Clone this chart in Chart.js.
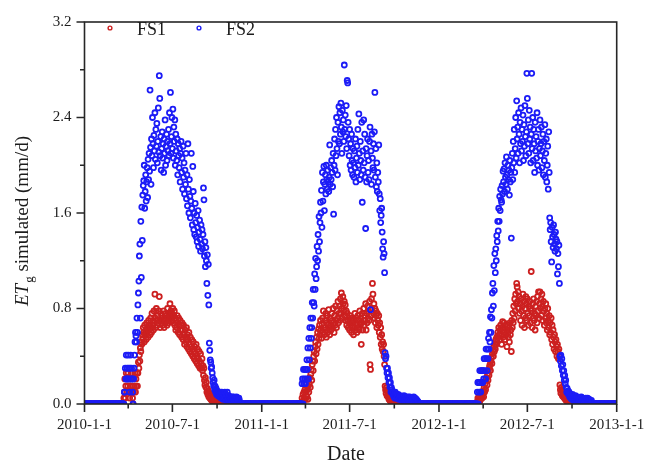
<!DOCTYPE html>
<html>
<head>
<meta charset="utf-8">
<title>ETg simulated</title>
<script src="https://cdn.jsdelivr.net/npm/chart.js@4.4.0/dist/chart.umd.min.js"></script>
<style>
  html, body { margin: 0; padding: 0; background: #fff; }
  #wrap { width: 659px; height: 466px; }
  canvas { display: block; }
</style>
</head>
<body>
<div id="wrap"><canvas id="chart" width="659" height="466"></canvas></div>
<script>
// ---- Data: daily simulated ETg (mm/d) for each growing season ----
const seasonStarts = ['2010-3-22', '2011-3-24', '2012-3-19'];

const fs2_2010 = [
  0.00,0.00,0.10,0.10,0.30,0.21,0.41,0.21,0.30,0.21,
  0.41,0.30,0.21,0.10,0.30,0.41,0.21,0.30,0.21,0.10,
  0.00,0.21,0.30,0.41,0.52,0.60,0.57,0.52,0.72,0.60,
  0.83,0.93,1.03,1.24,1.34,0.72,1.53,1.06,1.65,1.37,
  1.75,1.83,1.87,2.00,1.64,1.78,1.92,1.70,1.86,1.98,
  1.73,2.05,1.88,2.10,1.95,2.63,2.15,1.84,2.22,2.08,
  2.40,2.18,1.98,2.25,2.12,2.44,2.05,2.30,2.16,2.35,
  2.02,2.20,2.48,2.11,2.75,2.56,2.08,2.24,1.96,2.14,
  2.28,2.06,2.18,1.94,2.22,2.10,2.38,2.00,2.16,2.26,
  2.04,2.20,2.12,2.30,2.08,2.44,2.18,2.61,2.10,2.24,
  2.40,2.14,2.47,2.06,2.32,2.20,2.38,2.00,2.26,2.12,
  2.04,2.22,1.92,2.18,2.08,1.98,2.14,1.86,2.10,2.20,
  1.94,2.06,1.80,2.16,1.90,2.02,1.76,1.96,1.84,2.10,
  1.72,1.92,1.66,2.18,1.80,1.60,1.88,1.74,1.56,1.70,
  2.10,1.64,1.50,1.99,1.78,1.46,1.60,1.42,1.68,1.52,
  1.40,1.58,1.36,1.48,1.62,1.32,1.44,1.54,1.38,1.28,
  1.50,1.34,1.46,1.30,1.42,1.81,1.71,1.24,1.36,1.15,
  1.31,1.20,1.01,1.25,0.91,1.17,0.83,0.51,0.45,0.37,
  0.35,0.30,0.31,0.26,0.22,0.18,0.15,0.20,0.12,0.15,
  0.10,0.13,0.08,0.11,0.10,0.07,0.09,0.10,0.06,0.08,
  0.10,0.05,0.08,0.10,0.06,0.04,0.09,0.05,0.07,0.10,
  0.05,0.08,0.03,0.06,0.10,0.04,0.05,0.07,0.03,0.05,
  0.06,0.04,0.05,0.03,0.06,0.05,0.04,0.06,0.03,0.05,
  0.04,0.05,0.03,0.06,0.04,0.05,0.02,0.04,0.05,0.03,0.00
];

const fs1_2010 = [
  0.00,0.05,0.10,0.21,0.05,0.15,0.26,0.10,0.21,0.15,
  0.26,0.10,0.21,0.05,0.15,0.21,0.10,0.26,0.15,0.05,
  0.00,0.10,0.21,0.15,0.26,0.10,0.21,0.15,0.26,0.15,
  0.26,0.35,0.30,0.41,0.36,0.47,0.44,0.52,0.50,0.58,
  0.55,0.64,0.60,0.52,0.66,0.58,0.62,0.54,0.68,0.60,
  0.64,0.56,0.70,0.62,0.66,0.58,0.72,0.64,0.60,0.76,
  0.66,0.70,0.62,0.78,0.68,0.92,0.72,0.64,0.80,0.70,
  0.66,0.74,0.68,0.78,0.90,0.70,0.64,0.76,0.72,0.68,
  0.74,0.66,0.70,0.78,0.64,0.72,0.68,0.76,0.70,0.74,
  0.66,0.80,0.72,0.68,0.76,0.70,0.84,0.74,0.78,0.70,
  0.76,0.72,0.80,0.68,0.74,0.78,0.66,0.72,0.62,0.70,
  0.64,0.74,0.68,0.60,0.72,0.66,0.58,0.70,0.62,0.66,
  0.56,0.68,0.62,0.54,0.66,0.58,0.50,0.62,0.56,0.52,
  0.64,0.48,0.58,0.54,0.46,0.60,0.50,0.44,0.56,0.48,
  0.42,0.54,0.46,0.40,0.52,0.44,0.38,0.48,0.42,0.36,
  0.50,0.40,0.34,0.46,0.38,0.32,0.44,0.36,0.30,0.42,
  0.34,0.30,0.38,0.28,0.32,0.24,0.30,0.20,0.16,0.22,
  0.14,0.18,0.10,0.13,0.08,0.11,0.06,0.09,0.05,0.08,
  0.04,0.06,0.03,0.05,0.02,0.04,0.03,0.02,0.04,0.01,
  0.03,0.02,0.01,0.02,0.03,0.01,0.02,0.00,0.01,0.02,
  0.01,0.00,0.02,0.01,0.00,0.01,0.00,0.01,0.00,0.00,
  0,0,0,0,0,0,0,0,0,0,
  0,0,0,0,0,0,0,0,0,0,
  0,0,0,0,0,0,0,0,0,0,0
];

const fs2_2011 = [
  0.00,0.17,0.21,0.00,0.29,0.17,0.21,0.29,
  0.17,0.29,0.21,0.37,0.29,0.47,0.21,0.55,0.37,0.64,
  0.47,0.72,0.55,0.64,0.85,0.72,0.96,0.85,0.82,1.09,
  0.96,1.22,1.05,1.15,1.32,1.20,1.42,1.28,1.57,1.36,
  1.52,1.69,1.60,1.79,1.48,1.94,1.70,1.86,1.99,1.62,
  1.84,1.92,1.76,2.00,1.88,1.80,1.96,1.86,1.78,1.90,
  2.17,1.84,1.98,1.88,2.04,1.94,1.82,2.10,1.59,2.00,
  2.22,1.96,2.30,2.08,2.40,2.14,1.92,2.36,2.20,2.49,
  2.18,2.44,2.26,2.52,2.32,2.10,2.46,2.28,2.38,2.20,
  2.84,2.30,2.42,2.24,2.50,2.14,2.71,2.69,2.36,2.22,
  2.08,2.30,2.00,2.18,1.96,2.26,2.04,1.92,2.14,2.02,
  1.90,2.12,1.98,2.22,1.86,2.06,2.16,1.94,2.30,2.00,
  2.43,2.10,1.88,2.20,2.04,1.92,2.36,1.69,2.12,1.96,
  2.38,2.02,2.26,1.90,1.47,2.14,1.86,2.08,2.22,1.94,
  2.04,1.88,2.20,2.32,0.79,2.12,1.84,2.26,2.06,1.98,
  2.18,1.96,2.28,2.61,1.90,2.14,1.82,2.02,1.78,1.94,
  1.86,2.17,1.76,1.62,1.72,1.52,1.58,1.64,1.44,1.30,
  1.23,1.36,1.26,1.10,0.43,0.38,0.40,0.30,0.26,0.30,
  0.22,0.26,0.18,0.22,0.14,0.18,0.10,0.14,0.12,0.10,
  0.08,0.10,0.06,0.08,0.05,0.10,0.07,0.05,0.08,0.06,
  0.05,0.08,0.04,0.06,0.05,0.07,0.04,0.06,0.05,0.03,
  0.06,0.04,0.05,0.07,0.03,0.05,0.04,0.06,0.03,0.05,
  0.04,0.06,0.03,0.05,0.04,0.06,0.02,0.05,0.03,0.04,
  0.05,0.03,0.04,0.06,0.02,0.04,0.05,0.03,0.04,0.02,0.03,0.01,0.02,0.00
];

const fs1_2011 = [
  0.00,0.05,0.00,0.08,0.03,0.10,0.05,0.12,
  0.04,0.10,0.17,0.06,0.12,0.04,0.15,0.10,0.17,0.22,
  0.14,0.25,0.29,0.20,0.33,0.36,0.28,0.40,0.44,0.36,
  0.48,0.52,0.42,0.56,0.46,0.60,0.50,0.63,0.55,0.66,
  0.58,0.70,0.62,0.55,0.67,0.72,0.60,0.78,0.64,0.58,
  0.70,0.62,0.76,0.56,0.68,0.74,0.60,0.66,0.79,0.64,
  0.58,0.72,0.66,0.62,0.76,0.70,0.64,0.80,0.68,0.60,
  0.74,0.66,0.82,0.70,0.64,0.78,0.72,0.86,0.68,0.76,
  0.82,0.70,0.88,0.76,0.93,0.80,0.72,0.90,0.84,0.78,
  0.86,0.74,0.83,0.70,0.78,0.66,0.76,0.70,0.64,0.72,
  0.68,0.62,0.74,0.66,0.70,0.60,0.72,0.64,0.68,0.58,
  0.70,0.64,0.76,0.62,0.68,0.72,0.60,0.66,0.74,0.64,
  0.70,0.62,0.78,0.66,0.72,0.50,0.68,0.76,0.62,0.70,
  0.80,0.66,0.74,0.70,0.84,0.62,0.76,0.68,0.82,0.72,
  0.78,0.70,0.86,0.33,0.29,0.74,0.88,0.80,1.01,0.92,
  0.76,0.84,0.72,0.80,0.68,0.78,0.74,0.64,0.76,0.70,
  0.66,0.74,0.60,0.68,0.56,0.64,0.50,0.58,0.46,0.52,
  0.44,0.50,0.40,0.33,0.15,0.12,0.09,0.14,0.07,0.11,
  0.06,0.09,0.04,0.07,0.03,0.05,0.02,0.04,0.01,0.03,
  0.02,0.00,0.01,0.02,0.00,0.01,0.00,0.00,0.01,0.00,
  0,0,0,0,0,0,0,0,0,0,
  0,0,0,0,0,0,0,0,0,0,
  0,0,0,0,0,0,0,0,0,0,
  0,0,0,0,0,0,0,0,0,0,
  0,0,0,0
];

const fs2_2012 = [
  0.00,0.10,0.18,0.00,0.18,0.10,0.28,0.18,0.10,0.28,0.18,0.28,
  0.18,0.28,0.21,0.38,0.28,0.38,0.21,0.46,0.38,0.28,
  0.46,0.38,0.55,0.46,0.60,0.52,0.73,0.60,0.79,0.72,
  0.93,1.01,0.82,1.16,0.95,1.26,1.10,1.30,1.20,1.41,
  1.36,1.53,1.45,1.64,1.53,1.74,1.62,1.80,1.71,1.69,
  1.83,1.76,1.95,1.86,1.97,1.78,2.02,1.90,1.84,2.07,
  1.92,1.80,2.00,1.88,1.96,1.75,2.04,1.86,1.94,1.39,
  1.98,2.10,1.88,2.20,2.02,2.30,1.94,2.14,2.40,2.06,
  2.54,2.22,2.32,2.10,2.44,2.26,2.02,2.36,2.18,2.48,
  2.12,2.30,2.20,2.42,2.04,2.34,2.16,2.50,2.24,2.08,
  2.28,2.77,2.56,2.18,2.38,2.10,2.46,2.22,2.32,2.02,
  2.26,2.77,2.14,2.40,2.04,2.30,2.18,1.94,2.36,2.12,
  2.24,2.06,2.44,2.00,2.20,2.30,1.96,2.14,2.38,2.08,
  2.18,2.32,1.98,2.12,2.26,1.92,2.20,2.04,2.34,1.90,
  2.10,2.22,1.86,2.00,2.16,1.80,2.28,1.94,1.56,1.46,
  1.52,1.36,1.19,1.48,1.40,1.31,1.50,1.42,1.34,1.28,
  1.44,1.38,1.30,1.36,1.09,1.26,1.15,1.33,1.01,0.40,
  0.36,0.41,0.32,0.38,0.28,0.33,0.24,0.28,0.20,0.24,
  0.17,0.20,0.14,0.10,0.13,0.09,0.11,0.08,0.10,0.06,
  0.08,0.05,0.07,0.04,0.06,0.08,0.05,0.03,0.06,0.04,
  0.05,0.07,0.03,0.05,0.04,0.06,0.03,0.05,0.04,0.02,
  0.05,0.03,0.04,0.06,0.02,0.04,0.05,0.03,0.04,0.02,
  0.04,0.03,0.05,0.02,0.04,0.03,0.05,0.02,0.03,0.04,0.02,0.03,0.01,0.02,0.03,0.01,0.00
];

const fs1_2012 = [
  0.00,0.02,0.05,0.00,0.03,0.06,0.02,0.08,0.04,0.06,0.10,0.05,
  0.08,0.11,0.06,0.14,0.10,0.17,0.12,0.20,0.22,0.16,
  0.25,0.20,0.28,0.24,0.31,0.33,0.28,0.36,0.39,0.34,
  0.42,0.45,0.40,0.48,0.44,0.50,0.46,0.54,0.50,0.56,
  0.52,0.60,0.56,0.64,0.58,0.54,0.62,0.66,0.58,0.50,
  0.64,0.69,0.56,0.62,0.68,0.60,0.54,0.66,0.58,0.62,
  0.48,0.66,0.60,0.56,0.64,0.52,0.68,0.58,0.62,0.44,
  0.70,0.64,0.76,0.68,0.82,0.72,0.88,0.78,0.92,0.84,
  1.01,0.98,0.86,0.94,0.80,0.90,0.76,0.84,0.70,0.88,
  0.78,0.66,0.82,0.92,0.74,0.86,0.64,0.80,0.72,0.90,
  0.84,0.70,0.88,0.76,0.66,0.82,0.74,0.86,0.68,0.80,
  1.11,0.78,0.64,0.84,0.72,0.88,0.70,0.76,0.62,0.82,
  0.74,0.86,0.68,0.90,0.78,0.94,0.72,0.84,0.94,0.80,
  0.88,0.74,0.92,0.82,0.70,0.86,0.78,0.66,0.80,0.72,
  0.84,0.68,0.76,0.62,0.80,0.70,0.64,0.74,0.58,0.68,
  0.60,0.72,0.54,0.66,0.50,0.62,0.56,0.46,0.58,0.52,
  0.44,0.54,0.48,0.40,0.50,0.44,0.38,0.46,0.40,0.16,
  0.12,0.09,0.14,0.11,0.07,0.10,0.06,0.08,0.05,0.07,
  0.04,0.06,0.03,0.05,0.02,0.04,0.03,0.02,0.01,0.03,
  0.02,0.01,0.00,0.02,0.01,0.00,0.01,0.00,0.00,0.00,
  0,0,0,0,0,0,0,0,0,0,
  0,0,0,0,0,0,0,0,0,0,
  0,0,0,0,0,0,0,0,0,0,
  0,0,0,0,0,0,0
];

// Dormant periods: ETg is zero on every day in these ranges (inclusive)
const zeroPeriods = [
  ['2010-1-1', '2010-3-21'],
  ['2010-11-18', '2011-3-23'],
  ['2011-11-21', '2012-3-18'],
  ['2012-11-13', '2012-12-31']
];

// Axis ticks
const xTickLabels = ['2010-1-1', '2010-7-1', '2011-1-1', '2011-7-1', '2012-1-1', '2012-7-1', '2013-1-1'];
const xMinorTicks = ['2010-4-1', '2010-10-1', '2011-4-1', '2011-10-1', '2012-4-1', '2012-10-1'];
const yTicks = [0, 0.8, 1.6, 2.4, 3.2];
const yMinorTicks = [0.4, 1.2, 2.0, 2.8];

// ---- Helpers ----
const ORIGIN = Date.UTC(2010, 0, 1);
function dayNum(s) {
  const [y, m, d] = s.split('-').map(Number);
  return Math.round((Date.UTC(y, m - 1, d) - ORIGIN) / 86400000);
}

function buildSeries(seasons) {
  const pts = [];
  zeroPeriods.forEach(([a, b]) => {
    for (let d = dayNum(a); d <= dayNum(b); d++) pts.push({ x: d, y: 0 });
  });
  seasons.forEach((vals, k) => {
    const d0 = dayNum(seasonStarts[k]);
    vals.forEach((v, i) => pts.push({ x: d0 + i, y: v }));
  });
  return pts.sort((p, q) => p.x - q.x);
}

const fs1Points = buildSeries([fs1_2010, fs1_2011, fs1_2012]);
const fs2Points = buildSeries([fs2_2010, fs2_2011, fs2_2012]);

const RED = '#cc2020';
const BLUE = '#1c1cf6';
const INK = '#1c1c1c';
const SERIF = "'Liberation Serif', 'Times New Roman', serif";

// Frame, outward tick marks, axis titles and the in-plot legend
const decorations = {
  id: 'decorations',
  afterDraw(chart) {
    const { ctx, chartArea: a, scales: { x, y } } = chart;
    ctx.save();

    // frame
    ctx.strokeStyle = '#262626';
    ctx.lineWidth = 1.6;
    ctx.strokeRect(a.left, a.top, a.right - a.left, a.bottom - a.top);

    // tick marks
    ctx.beginPath();
    xTickLabels.forEach(l => {
      const px = x.getPixelForValue(dayNum(l));
      ctx.moveTo(px, a.bottom); ctx.lineTo(px, a.bottom + 8);
    });
    xMinorTicks.forEach(l => {
      const px = x.getPixelForValue(dayNum(l));
      ctx.moveTo(px, a.bottom); ctx.lineTo(px, a.bottom + 4.5);
    });
    yTicks.forEach(v => {
      const py = y.getPixelForValue(v);
      ctx.moveTo(a.left, py); ctx.lineTo(a.left - 8, py);
    });
    yMinorTicks.forEach(v => {
      const py = y.getPixelForValue(v);
      ctx.moveTo(a.left, py); ctx.lineTo(a.left - 4.5, py);
    });
    ctx.stroke();

    ctx.fillStyle = INK;

    // x-axis title
    ctx.font = '20px ' + SERIF;
    ctx.textAlign = 'center';
    ctx.textBaseline = 'alphabetic';
    ctx.fillText('Date', 346, 460);

    // y-axis title: italic ET with subscript g
    ctx.save();
    ctx.translate(28, 221);
    ctx.rotate(-Math.PI / 2);
    ctx.textAlign = 'left';
    const fItal = 'italic 19px ' + SERIF;
    const fSub = '13px ' + SERIF;
    const fMain = '19px ' + SERIF;
    const rest = ' simulated (mm/d)';
    ctx.font = fItal; const w1 = ctx.measureText('ET').width;
    ctx.font = fSub; const w2 = ctx.measureText('g').width;
    ctx.font = fMain; const w3 = ctx.measureText(rest).width;
    let sx = -(w1 + w2 + w3 + 1) / 2;
    ctx.font = fItal; ctx.fillText('ET', sx, 0);
    sx += w1 + 1;
    ctx.font = fSub; ctx.fillText('g', sx, 5);
    sx += w2;
    ctx.font = fMain; ctx.fillText(rest, sx, 0);
    ctx.restore();

    // legend
    const spots = [{ cx: 110, tx: 137 }, { cx: 199, tx: 226 }];
    chart.data.datasets.forEach((ds, i) => {
      const s = spots[i];
      ctx.beginPath();
      ctx.strokeStyle = ds.borderColor;
      ctx.lineWidth = 1.4;
      ctx.arc(s.cx, 28, 1.9, 0, Math.PI * 2);
      ctx.stroke();
      ctx.fillStyle = INK;
      ctx.font = '18px ' + SERIF;
      ctx.textAlign = 'left';
      ctx.fillText(ds.label, s.tx, 34.5);
    });

    ctx.restore();
  }
};

new Chart(document.getElementById('chart'), {
  type: 'scatter',
  data: {
    datasets: [
      {
        label: 'FS1',
        data: fs1Points,
        borderColor: RED,
        backgroundColor: 'rgba(0,0,0,0)',
        pointRadius: 2.5,
        pointBorderWidth: 1.8,
        order: 1
      },
      {
        label: 'FS2',
        data: fs2Points,
        borderColor: BLUE,
        backgroundColor: 'rgba(0,0,0,0)',
        pointRadius: 2.5,
        pointBorderWidth: 1.8,
        order: 0
      }
    ]
  },
  options: {
    responsive: false,
    animation: false,
    devicePixelRatio: 1,
    events: [],
    layout: { padding: { left: 0, top: 12.5, right: 42.3, bottom: 0 } },
    plugins: { legend: { display: false }, tooltip: { enabled: false } },
    scales: {
      x: {
        type: 'linear',
        min: 0,
        max: dayNum('2013-1-1'),
        afterBuildTicks: s => { s.ticks = xTickLabels.map(l => ({ value: dayNum(l) })); },
        afterFit: s => { s.height = 62; },
        grid: { display: false, drawTicks: false },
        border: { display: false },
        ticks: {
          autoSkip: false,
          maxRotation: 0,
          padding: 12,
          color: INK,
          font: { family: SERIF, size: 15 },
          callback: (v, i) => xTickLabels[i]
        }
      },
      y: {
        min: 0,
        max: 3.2,
        afterBuildTicks: s => { s.ticks = yTicks.map(v => ({ value: v })); },
        afterFit: s => { s.width = 84.5; },
        grid: { display: false, drawTicks: false },
        border: { display: false },
        ticks: {
          padding: 13,
          color: INK,
          font: { family: SERIF, size: 15 },
          callback: v => Number(v).toFixed(1)
        }
      }
    }
  },
  plugins: [decorations]
});
</script>
</body>
</html>
